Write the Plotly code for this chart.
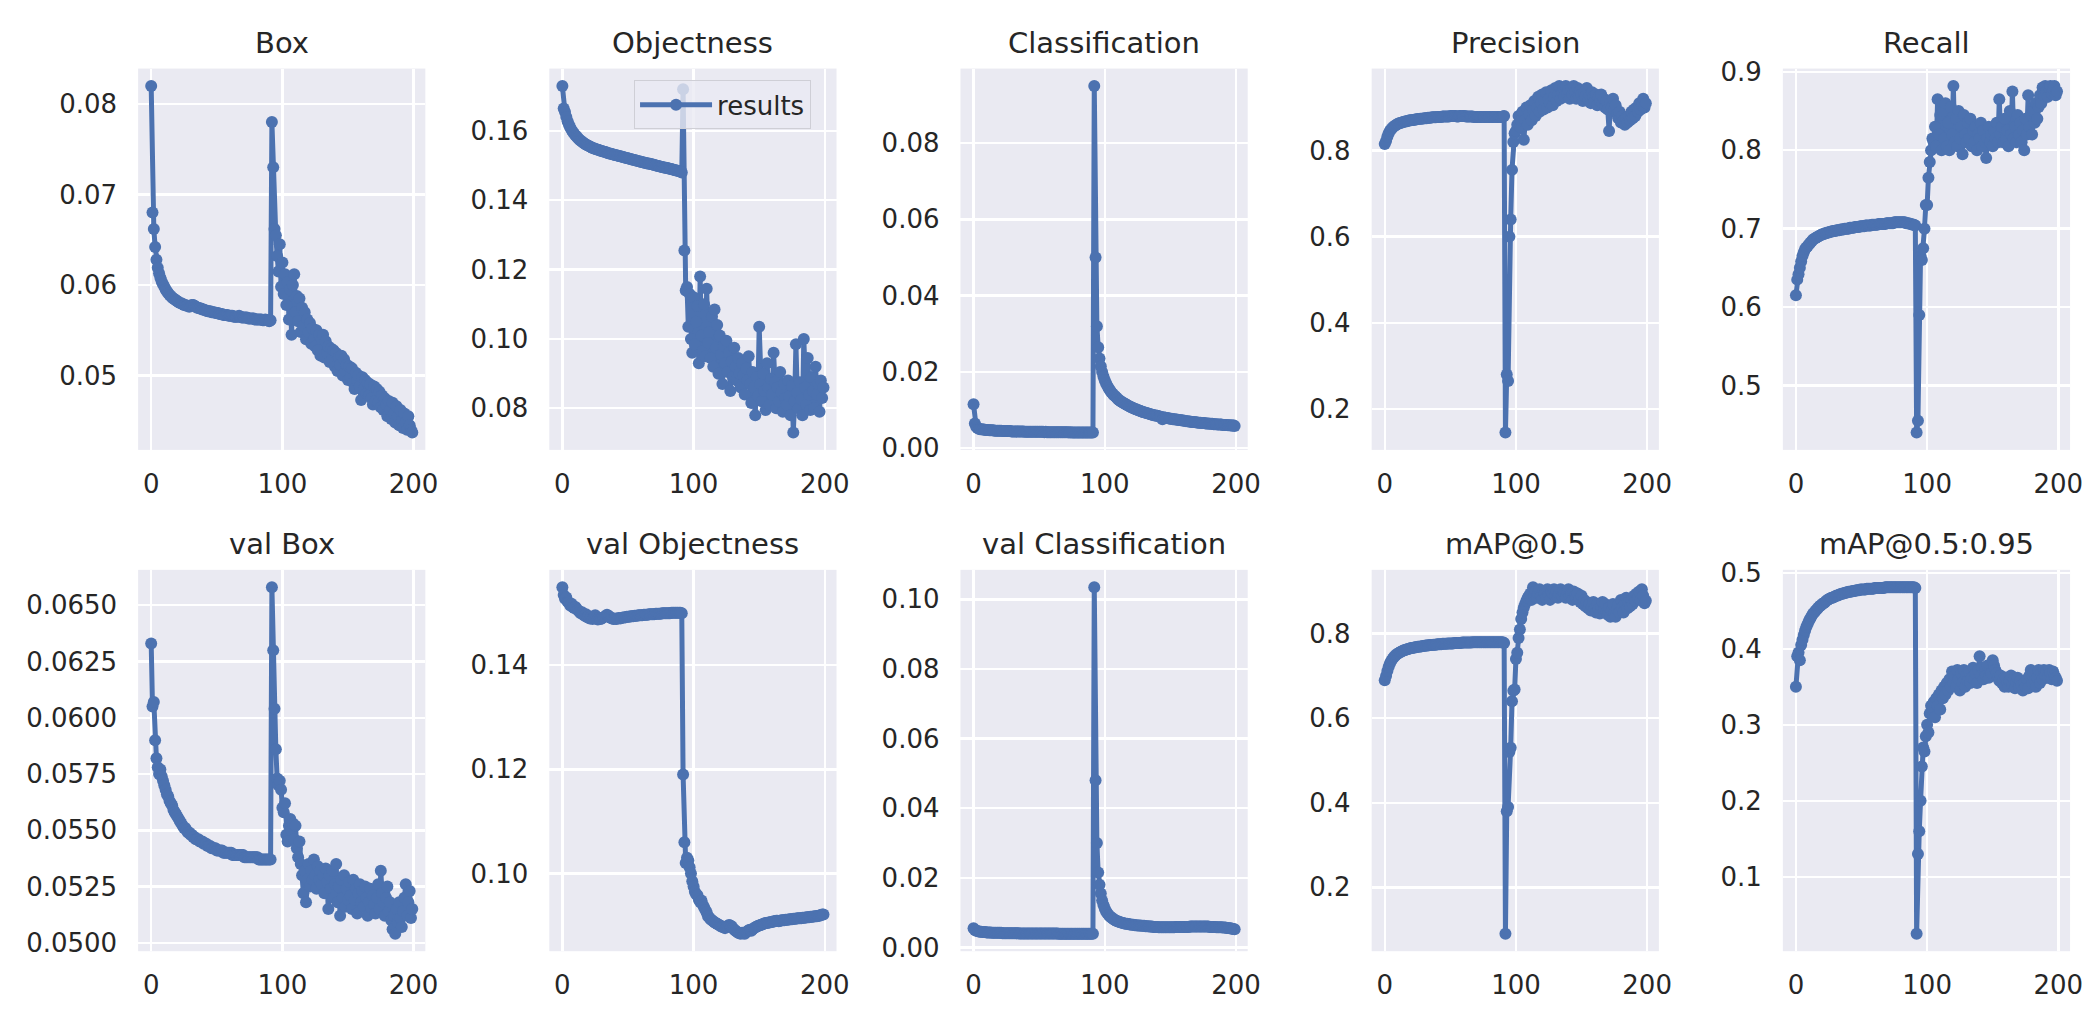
import plotly.graph_objects as go

# ---------------- data ----------------
EPOCHS = list(range(200))

BOX = [
    0.0820, 0.0680, 0.0662, 0.0642, 0.0628, 0.0619, 0.0613, 0.0608, 0.0604, 0.0601,
    0.0598, 0.0595, 0.0593, 0.0591, 0.0589, 0.0588, 0.0586, 0.0585, 0.0584, 0.0583,
    0.0582, 0.0581, 0.0580, 0.0580, 0.0579, 0.0578, 0.0578, 0.0577, 0.0577, 0.0576,
    0.0577, 0.0578, 0.0578, 0.0577, 0.0576, 0.0575, 0.0575, 0.0574, 0.0574, 0.0573,
    0.0573, 0.0572, 0.0572, 0.0571, 0.0571, 0.0571, 0.0570, 0.0570, 0.0570, 0.0569,
    0.0569, 0.0569, 0.0568, 0.0568, 0.0568, 0.0567, 0.0567, 0.0567, 0.0567, 0.0566,
    0.0566, 0.0566, 0.0566, 0.0565, 0.0565, 0.0565, 0.0565, 0.0566, 0.0565, 0.0564,
    0.0564, 0.0564, 0.0564, 0.0564, 0.0563, 0.0563, 0.0563, 0.0563, 0.0563, 0.0562,
    0.0562, 0.0562, 0.0562, 0.0562, 0.0562, 0.0561, 0.0561, 0.0562, 0.0561, 0.0561,
    0.0560, 0.0561, 0.0780, 0.0730, 0.0662, 0.0655, 0.0632, 0.0615, 0.0645, 0.0598,
    0.0625, 0.0590, 0.0612, 0.0578, 0.0603, 0.0562, 0.0595, 0.0545, 0.0600, 0.0612,
    0.0570, 0.0588, 0.0560, 0.0585, 0.0548, 0.0575, 0.0555, 0.0570, 0.0540, 0.0562,
    0.0548, 0.0558, 0.0535, 0.0552, 0.0540, 0.0532, 0.0550, 0.0528, 0.0545, 0.0522,
    0.0540, 0.0545, 0.0520, 0.0538, 0.0525, 0.0532, 0.0515, 0.0530, 0.0518, 0.0528,
    0.0510, 0.0525, 0.0505, 0.0520, 0.0512, 0.0522, 0.0500, 0.0518, 0.0505, 0.0512,
    0.0495, 0.0510, 0.0498, 0.0508, 0.0492, 0.0485, 0.0503, 0.0494, 0.0500, 0.0488,
    0.0473, 0.0498, 0.0485, 0.0495, 0.0480, 0.0492, 0.0478, 0.0490, 0.0475, 0.0468,
    0.0488, 0.0472, 0.0485, 0.0470, 0.0482, 0.0465, 0.0478, 0.0462, 0.0475, 0.0468,
    0.0455, 0.0472, 0.0462, 0.0452, 0.0470, 0.0458, 0.0448, 0.0466, 0.0455, 0.0445,
    0.0462, 0.0450, 0.0442, 0.0458, 0.0448, 0.0440, 0.0455, 0.0445, 0.0440, 0.0437,
]

OBJECTNESS = [
    0.1730, 0.1665, 0.1655, 0.1640, 0.1628, 0.1618, 0.1610, 0.1603, 0.1597, 0.1592,
    0.1587, 0.1583, 0.1579, 0.1575, 0.1572, 0.1569, 0.1566, 0.1563, 0.1561, 0.1559,
    0.1557, 0.1555, 0.1553, 0.1551, 0.1550, 0.1548, 0.1547, 0.1546, 0.1545, 0.1543,
    0.1542, 0.1541, 0.1540, 0.1539, 0.1537, 0.1536, 0.1535, 0.1534, 0.1533, 0.1532,
    0.1531, 0.1530, 0.1529, 0.1528, 0.1527, 0.1526, 0.1525, 0.1524, 0.1523, 0.1522,
    0.1521, 0.1520, 0.1519, 0.1518, 0.1517, 0.1516, 0.1515, 0.1514, 0.1513, 0.1512,
    0.1511, 0.1510, 0.1509, 0.1508, 0.1507, 0.1506, 0.1506, 0.1505, 0.1504, 0.1503,
    0.1502, 0.1501, 0.1500, 0.1499, 0.1498, 0.1497, 0.1496, 0.1495, 0.1494, 0.1494,
    0.1493, 0.1492, 0.1491, 0.1490, 0.1489, 0.1488, 0.1487, 0.1486, 0.1485, 0.1484,
    0.1483, 0.1480, 0.1720, 0.1255, 0.1140, 0.1150, 0.1035, 0.1130, 0.1000, 0.0960,
    0.1120, 0.0985, 0.1050, 0.1095, 0.0930, 0.1180, 0.1010, 0.0965, 0.1100, 0.0950,
    0.1145, 0.0990, 0.1020, 0.0945, 0.1065, 0.0920, 0.1085, 0.0975, 0.1040, 0.0900,
    0.1010, 0.0955, 0.0870, 0.0980, 0.0930, 0.0995, 0.0905, 0.0960, 0.0850, 0.0935,
    0.0890, 0.0975, 0.0920, 0.0880, 0.0945, 0.0900, 0.0860, 0.0930, 0.0895, 0.0840,
    0.0915, 0.0880, 0.0950, 0.0870, 0.0815, 0.0905, 0.0860, 0.0780, 0.0890, 0.0835,
    0.1035, 0.0870, 0.0820, 0.0900, 0.0850, 0.0795, 0.0930, 0.0860, 0.0810, 0.0885,
    0.0840, 0.0960, 0.0875, 0.0800, 0.0860, 0.0820, 0.0905, 0.0845, 0.0790, 0.0870,
    0.0830, 0.0810, 0.0880, 0.0835, 0.0780, 0.0865, 0.0730, 0.0820, 0.0985, 0.0845,
    0.0800, 0.0875, 0.0825, 0.0780, 0.1000, 0.0860, 0.0810, 0.0945, 0.0840, 0.0795,
    0.0890, 0.0850, 0.0800, 0.0920, 0.0840, 0.0870, 0.0790, 0.0880, 0.0830, 0.0860,
]

CLASSIFICATION = [
    0.0115, 0.0065, 0.0056, 0.0053, 0.0051, 0.0050, 0.0050, 0.0049, 0.0049, 0.0048,
    0.0048, 0.0048, 0.0047, 0.0047, 0.0047, 0.0047, 0.0046, 0.0046, 0.0046, 0.0046,
    0.0046, 0.0046, 0.0045, 0.0045, 0.0045, 0.0045, 0.0045, 0.0045, 0.0045, 0.0044,
    0.0044, 0.0044, 0.0044, 0.0044, 0.0044, 0.0044, 0.0044, 0.0044, 0.0044, 0.0043,
    0.0043, 0.0043, 0.0043, 0.0043, 0.0043, 0.0043, 0.0043, 0.0043, 0.0043, 0.0043,
    0.0043, 0.0043, 0.0043, 0.0043, 0.0042, 0.0043, 0.0042, 0.0042, 0.0042, 0.0042,
    0.0042, 0.0042, 0.0042, 0.0042, 0.0042, 0.0042, 0.0042, 0.0042, 0.0042, 0.0042,
    0.0042, 0.0042, 0.0042, 0.0041, 0.0042, 0.0041, 0.0041, 0.0041, 0.0041, 0.0041,
    0.0041, 0.0041, 0.0041, 0.0041, 0.0041, 0.0041, 0.0041, 0.0041, 0.0041, 0.0041,
    0.0041, 0.0041, 0.0950, 0.0500, 0.0320, 0.0265, 0.0235, 0.0215, 0.0200, 0.0188,
    0.0178, 0.0170, 0.0163, 0.0157, 0.0152, 0.0147, 0.0143, 0.0139, 0.0136, 0.0132,
    0.0129, 0.0126, 0.0124, 0.0121, 0.0119, 0.0117, 0.0115, 0.0113, 0.0111, 0.0109,
    0.0108, 0.0106, 0.0105, 0.0103, 0.0102, 0.0100, 0.0099, 0.0098, 0.0096, 0.0095,
    0.0094, 0.0093, 0.0092, 0.0091, 0.0090, 0.0089, 0.0088, 0.0087, 0.0086, 0.0086,
    0.0085, 0.0084, 0.0083, 0.0082, 0.0076, 0.0081, 0.0080, 0.0079, 0.0079, 0.0078,
    0.0077, 0.0077, 0.0076, 0.0076, 0.0075, 0.0075, 0.0074, 0.0074, 0.0073, 0.0073,
    0.0072, 0.0072, 0.0071, 0.0071, 0.0070, 0.0070, 0.0069, 0.0069, 0.0069, 0.0068,
    0.0068, 0.0067, 0.0067, 0.0067, 0.0066, 0.0066, 0.0066, 0.0065, 0.0065, 0.0065,
    0.0064, 0.0064, 0.0064, 0.0063, 0.0063, 0.0063, 0.0062, 0.0062, 0.0062, 0.0062,
    0.0061, 0.0061, 0.0061, 0.0061, 0.0060, 0.0060, 0.0060, 0.0059, 0.0060, 0.0058,
]

PRECISION = [
    0.815, 0.822, 0.832, 0.840, 0.846, 0.850, 0.853, 0.856, 0.858, 0.860,
    0.862, 0.863, 0.864, 0.865, 0.866, 0.867, 0.868, 0.868, 0.869, 0.870,
    0.870, 0.871, 0.871, 0.872, 0.872, 0.873, 0.873, 0.874, 0.874, 0.874,
    0.875, 0.875, 0.875, 0.876, 0.876, 0.876, 0.877, 0.877, 0.877, 0.877,
    0.878, 0.878, 0.878, 0.878, 0.879, 0.879, 0.879, 0.879, 0.879, 0.879,
    0.880, 0.880, 0.880, 0.880, 0.880, 0.879, 0.879, 0.880, 0.880, 0.880,
    0.880, 0.880, 0.879, 0.879, 0.879, 0.879, 0.879, 0.879, 0.878, 0.878,
    0.878, 0.878, 0.878, 0.878, 0.878, 0.878, 0.878, 0.878, 0.878, 0.878,
    0.878, 0.878, 0.878, 0.878, 0.878, 0.878, 0.878, 0.878, 0.878, 0.878,
    0.879, 0.880, 0.145, 0.280, 0.265, 0.600, 0.640, 0.755, 0.820, 0.840,
    0.845, 0.860, 0.880, 0.855, 0.870, 0.890, 0.825, 0.870, 0.900, 0.860,
    0.885, 0.905, 0.870, 0.895, 0.915, 0.880, 0.900, 0.925, 0.890, 0.910,
    0.930, 0.895, 0.915, 0.935, 0.900, 0.920, 0.910, 0.940, 0.905, 0.925,
    0.945, 0.915, 0.930, 0.950, 0.920, 0.935, 0.945, 0.925, 0.950, 0.930,
    0.940, 0.920, 0.945, 0.930, 0.950, 0.935, 0.920, 0.945, 0.925, 0.940,
    0.930, 0.915, 0.935, 0.925, 0.945, 0.920, 0.930, 0.910, 0.935, 0.925,
    0.915, 0.930, 0.905, 0.925, 0.915, 0.930, 0.910, 0.920, 0.900, 0.915,
    0.895, 0.845, 0.910, 0.900, 0.920, 0.895, 0.905, 0.885, 0.875, 0.890,
    0.865, 0.880, 0.870, 0.860, 0.875, 0.865, 0.880, 0.870, 0.890, 0.875,
    0.895, 0.880, 0.900, 0.890, 0.910, 0.895, 0.905, 0.920, 0.900, 0.910,
]

RECALL = [
    0.615, 0.635, 0.642, 0.650, 0.658, 0.665, 0.670, 0.674, 0.676, 0.678,
    0.680, 0.682, 0.684, 0.686, 0.687, 0.688, 0.689, 0.690, 0.691, 0.692,
    0.693, 0.693, 0.694, 0.694, 0.695, 0.695, 0.696, 0.696, 0.697, 0.697,
    0.697, 0.698, 0.698, 0.698, 0.699, 0.699, 0.699, 0.700, 0.700, 0.700,
    0.700, 0.701, 0.701, 0.701, 0.701, 0.702, 0.702, 0.702, 0.702, 0.703,
    0.703, 0.703, 0.703, 0.704, 0.704, 0.704, 0.704, 0.704, 0.705, 0.705,
    0.705, 0.705, 0.705, 0.706, 0.706, 0.706, 0.706, 0.706, 0.706, 0.707,
    0.707, 0.707, 0.707, 0.707, 0.707, 0.708, 0.708, 0.708, 0.708, 0.708,
    0.708, 0.708, 0.708, 0.708, 0.707, 0.707, 0.707, 0.706, 0.706, 0.705,
    0.705, 0.704, 0.440, 0.455, 0.590, 0.665, 0.660, 0.675, 0.700, 0.730,
    0.730, 0.765, 0.785, 0.800, 0.815, 0.810, 0.830, 0.805, 0.865, 0.820,
    0.845, 0.800, 0.850, 0.815, 0.860, 0.805, 0.835, 0.800, 0.855, 0.820,
    0.882, 0.810, 0.840, 0.805, 0.850, 0.815, 0.830, 0.795, 0.845, 0.820,
    0.810, 0.835, 0.815, 0.840, 0.805, 0.825, 0.810, 0.830, 0.800, 0.820,
    0.815, 0.835, 0.805, 0.825, 0.810, 0.790, 0.815, 0.830, 0.810, 0.820,
    0.805, 0.825, 0.815, 0.835, 0.810, 0.865, 0.820, 0.830, 0.810, 0.840,
    0.815, 0.825, 0.805, 0.850, 0.820, 0.875, 0.815, 0.830, 0.810, 0.845,
    0.820, 0.835, 0.810, 0.825, 0.800, 0.840, 0.820, 0.870, 0.830, 0.845,
    0.820, 0.850, 0.835, 0.860, 0.840, 0.855, 0.870, 0.860, 0.880, 0.870,
    0.882, 0.875, 0.868, 0.880, 0.882, 0.872, 0.878, 0.882, 0.870, 0.875,
]

VAL_BOX = [
    0.0633, 0.0605, 0.0607, 0.0590, 0.0582, 0.0578, 0.0575, 0.0577, 0.0574, 0.0572,
    0.0570, 0.0568, 0.0566, 0.0565, 0.0563, 0.0562, 0.0561, 0.0559, 0.0558, 0.0557,
    0.0556, 0.0555, 0.0554, 0.0553, 0.0552, 0.0551, 0.0551, 0.0550, 0.0549, 0.0549,
    0.0548, 0.0548, 0.0547, 0.0547, 0.0546, 0.0546, 0.0546, 0.0545, 0.0545, 0.0545,
    0.0544, 0.0544, 0.0544, 0.0543, 0.0543, 0.0543, 0.0542, 0.0542, 0.0542, 0.0542,
    0.0541, 0.0541, 0.0541, 0.0541, 0.0541, 0.0540, 0.0540, 0.0540, 0.0540, 0.0540,
    0.0540, 0.0540, 0.0539, 0.0539, 0.0539, 0.0539, 0.0539, 0.0539, 0.0539, 0.0539,
    0.0539, 0.0538, 0.0538, 0.0538, 0.0538, 0.0538, 0.0538, 0.0538, 0.0538, 0.0538,
    0.0538, 0.0538, 0.0537, 0.0537, 0.0537, 0.0537, 0.0537, 0.0537, 0.0537, 0.0537,
    0.0537, 0.0537, 0.0658, 0.0630, 0.0604, 0.0586, 0.0573, 0.0570, 0.0572, 0.0568,
    0.0560, 0.0558, 0.0562, 0.0548, 0.0545, 0.0552, 0.0555, 0.0550, 0.0553, 0.0546,
    0.0552, 0.0542, 0.0538, 0.0545, 0.0535, 0.0530, 0.0522, 0.0532, 0.0518, 0.0528,
    0.0535, 0.0525, 0.0532, 0.0528, 0.0537, 0.0530, 0.0524, 0.0534, 0.0528, 0.0532,
    0.0526, 0.0530, 0.0522, 0.0533, 0.0527, 0.0515, 0.0530, 0.0524, 0.0532, 0.0520,
    0.0526, 0.0535, 0.0518, 0.0525, 0.0512, 0.0528, 0.0520, 0.0530, 0.0516, 0.0524,
    0.0519, 0.0527, 0.0521, 0.0515, 0.0528, 0.0519, 0.0524, 0.0513, 0.0522, 0.0526,
    0.0518, 0.0523, 0.0516, 0.0525, 0.0520, 0.0512, 0.0518, 0.0524, 0.0515, 0.0521,
    0.0517, 0.0513, 0.0520, 0.0526, 0.0515, 0.0532, 0.0522, 0.0518, 0.0512, 0.0520,
    0.0525, 0.0514, 0.0518, 0.0510, 0.0506, 0.0512, 0.0504, 0.0515, 0.0509, 0.0518,
    0.0511, 0.0507, 0.0514, 0.0520, 0.0526, 0.0512, 0.0518, 0.0523, 0.0511, 0.0515,
]

VAL_OBJECTNESS = [
    0.1550, 0.1535, 0.1528, 0.1530, 0.1522, 0.1520, 0.1515, 0.1518, 0.1512, 0.1510,
    0.1512, 0.1508, 0.1505, 0.1503, 0.1500, 0.1502, 0.1497, 0.1495, 0.1498, 0.1492,
    0.1494, 0.1490, 0.1493, 0.1489, 0.1492, 0.1496, 0.1490, 0.1488, 0.1491, 0.1489,
    0.1490, 0.1492, 0.1493, 0.1494, 0.1497, 0.1495, 0.1493, 0.1491, 0.1490, 0.1489,
    0.1490, 0.1489, 0.1490, 0.1491, 0.1490, 0.1491, 0.1492, 0.1492, 0.1492, 0.1493,
    0.1493, 0.1493, 0.1494, 0.1494, 0.1494, 0.1495, 0.1495, 0.1495, 0.1496, 0.1496,
    0.1496, 0.1496, 0.1497, 0.1497, 0.1497, 0.1497, 0.1498, 0.1498, 0.1498, 0.1498,
    0.1498, 0.1499, 0.1499, 0.1499, 0.1499, 0.1499, 0.1500, 0.1500, 0.1500, 0.1500,
    0.1500, 0.1500, 0.1500, 0.1501, 0.1501, 0.1501, 0.1501, 0.1501, 0.1501, 0.1501,
    0.1501, 0.1500, 0.1190, 0.1060, 0.1020, 0.1030, 0.1025, 0.1012, 0.1000, 0.0985,
    0.0975, 0.0965, 0.0960, 0.0958, 0.0950, 0.0945, 0.0948, 0.0940, 0.0935, 0.0930,
    0.0925, 0.0918, 0.0915, 0.0912, 0.0910, 0.0908, 0.0906, 0.0905, 0.0903, 0.0902,
    0.0900, 0.0898, 0.0898, 0.0896, 0.0895, 0.0897, 0.0899, 0.0901, 0.0900, 0.0898,
    0.0895, 0.0892, 0.0890, 0.0888, 0.0886, 0.0885, 0.0884, 0.0886, 0.0885, 0.0884,
    0.0887, 0.0889, 0.0891, 0.0892, 0.0890, 0.0893, 0.0895, 0.0896, 0.0898, 0.0899,
    0.0900, 0.0901, 0.0902, 0.0903, 0.0904, 0.0905, 0.0905, 0.0906, 0.0906, 0.0907,
    0.0907, 0.0908, 0.0908, 0.0909, 0.0909, 0.0908, 0.0909, 0.0910, 0.0910, 0.0910,
    0.0911, 0.0911, 0.0911, 0.0912, 0.0912, 0.0912, 0.0913, 0.0913, 0.0913, 0.0914,
    0.0914, 0.0914, 0.0914, 0.0915, 0.0915, 0.0915, 0.0916, 0.0916, 0.0916, 0.0917,
    0.0917, 0.0917, 0.0918, 0.0918, 0.0918, 0.0919, 0.0919, 0.0920, 0.0921, 0.0921,
]

VAL_CLASSIFICATION = [
    0.0055, 0.0050, 0.0048, 0.0047, 0.0046, 0.0045, 0.0045, 0.0044, 0.0044, 0.0044,
    0.0043, 0.0043, 0.0043, 0.0043, 0.0042, 0.0042, 0.0042, 0.0042, 0.0042, 0.0042,
    0.0042, 0.0042, 0.0041, 0.0041, 0.0041, 0.0041, 0.0041, 0.0041, 0.0041, 0.0041,
    0.0041, 0.0041, 0.0041, 0.0041, 0.0041, 0.0040, 0.0040, 0.0040, 0.0040, 0.0040,
    0.0040, 0.0040, 0.0040, 0.0040, 0.0040, 0.0040, 0.0040, 0.0040, 0.0040, 0.0040,
    0.0040, 0.0040, 0.0040, 0.0040, 0.0040, 0.0040, 0.0040, 0.0040, 0.0040, 0.0040,
    0.0040, 0.0040, 0.0040, 0.0040, 0.0040, 0.0039, 0.0039, 0.0039, 0.0039, 0.0039,
    0.0039, 0.0039, 0.0039, 0.0039, 0.0039, 0.0039, 0.0039, 0.0039, 0.0039, 0.0039,
    0.0039, 0.0039, 0.0039, 0.0039, 0.0039, 0.0039, 0.0039, 0.0039, 0.0039, 0.0039,
    0.0039, 0.0039, 0.1035, 0.0480, 0.0300, 0.0215, 0.0180, 0.0155, 0.0135, 0.0122,
    0.0112, 0.0104, 0.0098, 0.0093, 0.0089, 0.0086, 0.0083, 0.0080, 0.0078, 0.0076,
    0.0075, 0.0073, 0.0072, 0.0071, 0.0070, 0.0069, 0.0068, 0.0068, 0.0067, 0.0066,
    0.0066, 0.0065, 0.0065, 0.0064, 0.0064, 0.0063, 0.0063, 0.0063, 0.0062, 0.0062,
    0.0062, 0.0061, 0.0061, 0.0061, 0.0060, 0.0060, 0.0060, 0.0059, 0.0059, 0.0059,
    0.0059, 0.0058, 0.0058, 0.0058, 0.0058, 0.0058, 0.0058, 0.0058, 0.0058, 0.0058,
    0.0058, 0.0058, 0.0058, 0.0058, 0.0059, 0.0059, 0.0059, 0.0059, 0.0059, 0.0059,
    0.0059, 0.0059, 0.0059, 0.0059, 0.0059, 0.0060, 0.0060, 0.0060, 0.0060, 0.0060,
    0.0060, 0.0060, 0.0060, 0.0060, 0.0060, 0.0060, 0.0060, 0.0060, 0.0060, 0.0060,
    0.0059, 0.0059, 0.0059, 0.0059, 0.0059, 0.0058, 0.0058, 0.0058, 0.0058, 0.0058,
    0.0057, 0.0057, 0.0057, 0.0056, 0.0056, 0.0055, 0.0055, 0.0054, 0.0053, 0.0052,
]

MAP_50 = [
    0.690, 0.700, 0.712, 0.722, 0.730, 0.736, 0.741, 0.745, 0.748, 0.751,
    0.753, 0.755, 0.757, 0.758, 0.760, 0.761, 0.762, 0.763, 0.764, 0.765,
    0.766, 0.766, 0.767, 0.768, 0.768, 0.769, 0.769, 0.770, 0.770, 0.771,
    0.771, 0.772, 0.772, 0.772, 0.773, 0.773, 0.773, 0.774, 0.774, 0.774,
    0.775, 0.775, 0.775, 0.775, 0.776, 0.776, 0.776, 0.776, 0.777, 0.777,
    0.777, 0.777, 0.777, 0.778, 0.778, 0.778, 0.778, 0.778, 0.778, 0.779,
    0.779, 0.779, 0.779, 0.779, 0.779, 0.779, 0.779, 0.780, 0.780, 0.780,
    0.780, 0.780, 0.780, 0.780, 0.780, 0.780, 0.780, 0.780, 0.780, 0.780,
    0.780, 0.780, 0.780, 0.780, 0.780, 0.780, 0.780, 0.780, 0.780, 0.780,
    0.780, 0.778, 0.090, 0.380, 0.390, 0.520, 0.530, 0.640, 0.665, 0.668,
    0.740, 0.755, 0.790, 0.810, 0.835, 0.850, 0.862, 0.870, 0.878, 0.885,
    0.890, 0.895, 0.880, 0.910, 0.890, 0.900, 0.885, 0.895, 0.905, 0.890,
    0.880, 0.900, 0.895, 0.885, 0.905, 0.890, 0.880, 0.900, 0.895, 0.905,
    0.890, 0.900, 0.885, 0.895, 0.905, 0.890, 0.900, 0.895, 0.885, 0.900,
    0.905, 0.890, 0.895, 0.880, 0.900, 0.890, 0.885, 0.895, 0.880, 0.875,
    0.890, 0.870, 0.880, 0.865, 0.875, 0.860, 0.870, 0.855, 0.865, 0.875,
    0.860, 0.850, 0.870, 0.858, 0.848, 0.865, 0.875, 0.855, 0.870, 0.850,
    0.845, 0.862, 0.840, 0.855, 0.870, 0.850, 0.840, 0.858, 0.868, 0.850,
    0.880, 0.862, 0.850, 0.872, 0.885, 0.860, 0.875, 0.865, 0.880, 0.870,
    0.890, 0.878, 0.895, 0.885, 0.900, 0.880, 0.905, 0.890, 0.872, 0.878,
]

MAP_50_95 = [
    0.350, 0.390, 0.395, 0.385, 0.405, 0.412, 0.418, 0.424, 0.429, 0.433,
    0.437, 0.440, 0.443, 0.446, 0.448, 0.450, 0.452, 0.454, 0.456, 0.457,
    0.459, 0.460, 0.461, 0.463, 0.464, 0.465, 0.466, 0.467, 0.467, 0.468,
    0.469, 0.470, 0.470, 0.471, 0.472, 0.472, 0.473, 0.473, 0.474, 0.474,
    0.475, 0.475, 0.475, 0.476, 0.476, 0.476, 0.477, 0.477, 0.477, 0.478,
    0.478, 0.478, 0.478, 0.478, 0.479, 0.479, 0.479, 0.479, 0.479, 0.479,
    0.480, 0.480, 0.480, 0.480, 0.480, 0.480, 0.480, 0.480, 0.481, 0.481,
    0.481, 0.481, 0.481, 0.481, 0.481, 0.481, 0.481, 0.481, 0.481, 0.481,
    0.481, 0.481, 0.481, 0.481, 0.481, 0.481, 0.481, 0.481, 0.481, 0.481,
    0.481, 0.480, 0.025, 0.130, 0.160, 0.200, 0.245, 0.270, 0.265, 0.285,
    0.300, 0.290, 0.315, 0.325, 0.320, 0.330, 0.310, 0.335, 0.325, 0.340,
    0.320, 0.345, 0.335, 0.350, 0.340, 0.355, 0.345, 0.360, 0.350, 0.370,
    0.355, 0.365, 0.350, 0.372, 0.360, 0.345, 0.368, 0.355, 0.372, 0.350,
    0.365, 0.358, 0.370, 0.355, 0.362, 0.375, 0.360, 0.368, 0.355, 0.372,
    0.390, 0.365, 0.375, 0.360, 0.370, 0.365, 0.378, 0.362, 0.372, 0.368,
    0.385, 0.378, 0.372, 0.368, 0.362, 0.358, 0.365, 0.355, 0.360, 0.350,
    0.362, 0.355, 0.350, 0.358, 0.365, 0.352, 0.360, 0.348, 0.355, 0.362,
    0.350, 0.358, 0.352, 0.345, 0.355, 0.350, 0.360, 0.348, 0.365, 0.372,
    0.355, 0.368, 0.358, 0.350, 0.362, 0.372, 0.355, 0.368, 0.360, 0.372,
    0.365, 0.370, 0.362, 0.372, 0.368, 0.360, 0.370, 0.365, 0.362, 0.358,
]

TITLES = ["Box", "Objectness", "Classification", "Precision", "Recall",
          "val Box", "val Objectness", "val Classification", "mAP@0.5", "mAP@0.5:0.95"]
SERIES = [BOX, OBJECTNESS, CLASSIFICATION, PRECISION, RECALL,
          VAL_BOX, VAL_OBJECTNESS, VAL_CLASSIFICATION, MAP_50, MAP_50_95]
X_TICKS = [0, 100, 200]
Y_TICK_FORMAT = [".2f", ".2f", ".2f", ".1f", ".1f", ".4f", ".2f", ".2f", ".1f", ".1f"]
Y_TICK_STEP = [0.01, 0.02, 0.02, 0.2, 0.1, 0.0025, 0.02, 0.02, 0.2, 0.1]
LEGEND_LABEL = "results"

for s in SERIES:
    assert len(s) == len(EPOCHS), len(s)

# ---------------- style / layout ----------------
W, H = 2094, 1011
BLUE = "#4C72B0"
FACE = "#EAEAF2"
TEXT = "#262626"
FONT = "DejaVu Sans"

COL_LEFT = [139, 552.75, 966.5, 1380.25, 1794]   # px
PLOT_W = 289
ROW_TOP = [58, 572]                                # px from top
PLOT_H = 391

fig = go.Figure()
annotations = []
layout_axes = {}

xmin, xmax = EPOCHS[0], EPOCHS[-1]
xpad = 0.05 * (xmax - xmin)

for i, (title, ys) in enumerate(zip(TITLES, SERIES)):
    r, c = divmod(i, 5)
    sfx = "" if i == 0 else str(i + 1)
    x0 = COL_LEFT[c] / W
    x1 = (COL_LEFT[c] + PLOT_W) / W
    y1 = 1 - ROW_TOP[r] / H
    y0 = 1 - (ROW_TOP[r] + PLOT_H) / H

    lo, hi = min(ys), max(ys)
    pad = 0.05 * (hi - lo)

    fig.add_trace(go.Scatter(
        x=EPOCHS, y=ys, xaxis="x" + sfx, yaxis="y" + sfx,
        mode="lines+markers", name=LEGEND_LABEL, showlegend=(i == 1),
        line=dict(color=BLUE, width=5),
        marker=dict(color=BLUE, size=12),
        hoverinfo="skip",
    ))

    layout_axes["xaxis" + sfx] = dict(
        domain=[x0, x1], anchor="y" + sfx, range=[xmin - xpad, xmax + xpad],
        tickmode="array", tickvals=X_TICKS, ticktext=[str(v) for v in X_TICKS],
        showgrid=True, gridcolor="white", gridwidth=2.4, zeroline=False,
        showline=False, ticks="", ticklabelstandoff=16,
        tickfont=dict(family=FONT, size=26, color=TEXT),
    )
    layout_axes["yaxis" + sfx] = dict(
        domain=[y0, y1], anchor="x" + sfx, range=[lo - pad, hi + pad],
        tick0=0, dtick=Y_TICK_STEP[i], tickformat=Y_TICK_FORMAT[i],
        showgrid=True, gridcolor="white", gridwidth=2.4, zeroline=False,
        showline=False, ticks="", ticklabelstandoff=20,
        tickfont=dict(family=FONT, size=26, color=TEXT),
    )
    annotations.append(dict(
        text=title, xref="paper", yref="paper",
        x=(x0 + x1) / 2, y=1 - (ROW_TOP[r] - 26) / H,
        xanchor="center", yanchor="middle", showarrow=False,
        font=dict(family=FONT, size=29, color=TEXT),
    ))

fig.update_layout(
    width=W, height=H, autosize=False,
    margin=dict(l=0, r=0, t=0, b=0, pad=0),
    paper_bgcolor="white", plot_bgcolor=FACE,
    font=dict(family=FONT, color=TEXT),
    annotations=annotations,
    legend=dict(
        x=638 / W, y=1 - 70 / H, xanchor="left", yanchor="top",
        bgcolor="rgba(234,234,242,0.8)", bordercolor="#cfcfd6", borderwidth=1,
        font=dict(family=FONT, size=26, color=TEXT), itemwidth=72,
    ),
    **layout_axes,
)

fig.write_html(
    "out.html",
    config={"displayModeBar": False, "staticPlot": True},
    post_script="document.body.style.margin='0px';document.body.style.overflow='hidden';",
)
